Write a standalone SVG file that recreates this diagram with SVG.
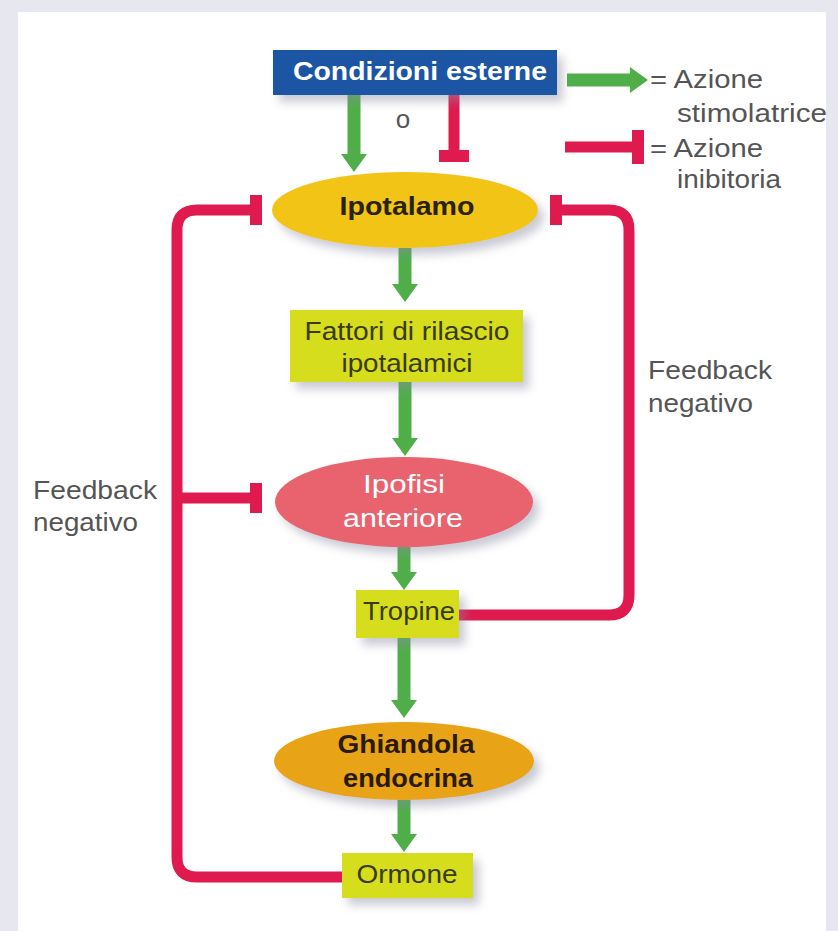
<svg xmlns="http://www.w3.org/2000/svg" width="838" height="931" viewBox="0 0 838 931">
<defs>
<style>
.lbl{font-family:"Liberation Sans",Arial,sans-serif;font-size:26px;fill:#555}
.t{font-family:"Liberation Sans",Arial,sans-serif;font-size:26px;text-anchor:middle}
.b{font-weight:bold}
.dk{fill:#3a3a0e}
.g{stroke:#4fae48;stroke-width:13;fill:none}
.r{stroke:#de1a4e;stroke-width:11;fill:none;stroke-linejoin:round}
</style>
<marker id="ah" markerUnits="userSpaceOnUse" markerWidth="20" markerHeight="28" refX="0" refY="13" orient="auto"><path d="M0,0 L18,13 L0,26 z" fill="#4fae48"/></marker>
<marker id="tee" markerUnits="userSpaceOnUse" markerWidth="12" markerHeight="30" refX="6" refY="15" orient="auto"><rect x="0" y="0" width="12" height="30" fill="#de1a4e"/></marker>
<marker id="teeL" markerUnits="userSpaceOnUse" markerWidth="12" markerHeight="34" refX="6" refY="17" orient="auto"><rect x="0" y="0" width="12" height="34" fill="#de1a4e"/></marker>
<filter id="sh" x="-20%" y="-20%" width="150%" height="160%"><feDropShadow dx="6" dy="7" stdDeviation="5" flood-color="#8a8aa0" flood-opacity="0.45"/></filter>
</defs>
<rect width="838" height="931" fill="#e7e7ef"/>
<rect x="18" y="12" width="808" height="919" fill="#ffffff"/>

<g id="connectors">
<line class="g" x1="354" y1="95" x2="354" y2="154" marker-end="url(#ah)"/>
<line class="r" x1="454" y1="95" x2="454" y2="156" marker-end="url(#tee)"/>
<line class="g" x1="405" y1="248" x2="405" y2="284" marker-end="url(#ah)"/>
<line class="g" x1="405" y1="382" x2="405" y2="438" marker-end="url(#ah)"/>
<line class="g" x1="404" y1="547" x2="404" y2="572" marker-end="url(#ah)"/>
<line class="g" x1="404" y1="638" x2="404" y2="700" marker-end="url(#ah)"/>
<line class="g" x1="404" y1="800" x2="404" y2="834" marker-end="url(#ah)"/>
<path class="r" d="M342,877 H197 Q177,877 177,857 V230 Q177,210 197,210 H256" marker-end="url(#tee)"/>
<path class="r" d="M177,498 H256" marker-end="url(#tee)"/>
<path class="r" d="M459,615 H609 Q629,615 629,595 V230 Q629,210 609,210 H556" marker-end="url(#tee)"/>
<line class="g" x1="567" y1="80" x2="630" y2="80" marker-end="url(#ah)"/>
<line class="r" x1="565" y1="147" x2="638" y2="147" marker-end="url(#teeL)"/>
</g>

<g id="condizioni"><rect x="273" y="50" width="284" height="45" fill="#1a55a3" filter="url(#sh)"/><text class="t b" x="420" y="80" fill="#ffffff" textLength="254" lengthAdjust="spacingAndGlyphs">Condizioni esterne</text></g>
<g id="o"><text class="lbl" x="403" y="128" text-anchor="middle" font-size="24">o</text></g>
<g id="legend">
<text class="lbl" x="650" y="88" textLength="113" lengthAdjust="spacingAndGlyphs">= Azione</text>
<text class="lbl" x="677" y="122" textLength="150" lengthAdjust="spacingAndGlyphs">stimolatrice</text>
<text class="lbl" x="650" y="157" textLength="113" lengthAdjust="spacingAndGlyphs">= Azione</text>
<text class="lbl" x="677" y="188" textLength="104" lengthAdjust="spacingAndGlyphs">inibitoria</text>
</g>
<g id="ipotalamo"><ellipse cx="405" cy="210" rx="133" ry="38" fill="#f2c416" filter="url(#sh)"/><text class="t b" x="407" y="215" fill="#2a2208" textLength="135" lengthAdjust="spacingAndGlyphs">Ipotalamo</text></g>
<g id="fattori"><rect x="290" y="310" width="233" height="72" fill="#d6dd1e" filter="url(#sh)"/><text class="t dk" x="407" y="340" textLength="205" lengthAdjust="spacingAndGlyphs">Fattori di rilascio</text><text class="t dk" x="407" y="372" textLength="131" lengthAdjust="spacingAndGlyphs">ipotalamici</text></g>
<g id="ipofisi"><ellipse cx="404" cy="502" rx="129" ry="45" fill="#e9636e" filter="url(#sh)"/><text class="t" x="404" y="493" fill="#ffffff" textLength="82" lengthAdjust="spacingAndGlyphs">Ipofisi</text><text class="t" x="403" y="527" fill="#ffffff" textLength="120" lengthAdjust="spacingAndGlyphs">anteriore</text></g>
<g id="tropine"><rect x="356" y="590" width="103" height="48" fill="#d6dd1e" filter="url(#sh)"/><text class="t dk" x="409" y="620" textLength="92" lengthAdjust="spacingAndGlyphs">Tropine</text></g>
<g id="ghiandola"><ellipse cx="404" cy="761" rx="130" ry="39" fill="#e8a312" filter="url(#sh)"/><text class="t b" x="406" y="753" fill="#2a1a04" textLength="137" lengthAdjust="spacingAndGlyphs">Ghiandola</text><text class="t b" x="408" y="787" fill="#2a1a04" textLength="130" lengthAdjust="spacingAndGlyphs">endocrina</text></g>
<g id="ormone"><rect x="342" y="853" width="131" height="45" fill="#d6dd1e" filter="url(#sh)"/><text class="t dk" x="407" y="883" textLength="101" lengthAdjust="spacingAndGlyphs">Ormone</text></g>
<g id="fb-left"><text class="lbl" x="33" y="499" textLength="124" lengthAdjust="spacingAndGlyphs">Feedback</text><text class="lbl" x="33" y="531" textLength="105" lengthAdjust="spacingAndGlyphs">negativo</text></g>
<g id="fb-right"><text class="lbl" x="648" y="379" textLength="124" lengthAdjust="spacingAndGlyphs">Feedback</text><text class="lbl" x="648" y="412" textLength="105" lengthAdjust="spacingAndGlyphs">negativo</text></g>
</svg>
